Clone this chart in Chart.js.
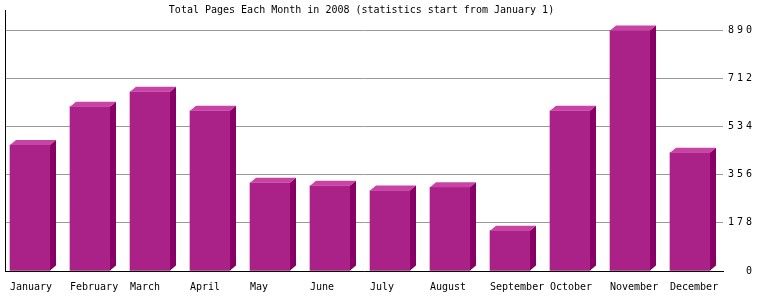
<!DOCTYPE html>
<html>
<head>
<meta charset="utf-8">
<script src="https://cdn.jsdelivr.net/npm/chart.js@4"></script>
<style>
  body { margin: 0; background: #fff; }
</style>
</head>
<body>
<canvas id="pagesChart" width="760" height="300"></canvas>
<script>
const months = ['January', 'February', 'March', 'April', 'May', 'June',
                'July', 'August', 'September', 'October', 'November', 'December'];
const pages = [465, 607, 662, 592, 326, 315, 297, 309, 149, 592, 888, 437];
const yTicks = [0, 178, 356, 534, 712, 890];
const titleText = 'Total Pages Each Month in 2008 (statistics start from January 1)';

const monoFont = "'DejaVu Sans Mono', monospace";
const depthX = 6;
const depthY = 5;

// draws the top and side faces of each bar, and the right hand value labels
const bar3d = {
    id: 'bar3d',
    afterDatasetsDraw(chart) {
        const ctx = chart.ctx;
        chart.getDatasetMeta(0).data.forEach(bar => {
            const left = bar.x - bar.width / 2;
            const right = bar.x + bar.width / 2;
            const top = bar.y;
            const base = bar.base;
            ctx.save();
            ctx.fillStyle = '#c844a4';
            ctx.beginPath();
            ctx.moveTo(left, top);
            ctx.lineTo(left + depthX, top - depthY);
            ctx.lineTo(right + depthX, top - depthY);
            ctx.lineTo(right, top);
            ctx.closePath();
            ctx.fill();
            ctx.fillStyle = '#880066';
            ctx.beginPath();
            ctx.moveTo(right, top);
            ctx.lineTo(right + depthX, top - depthY);
            ctx.lineTo(right + depthX, base - depthY);
            ctx.lineTo(right, base);
            ctx.closePath();
            ctx.fill();
            ctx.restore();
        });
    },
    afterDraw(chart) {
        const ctx = chart.ctx;
        const y = chart.scales.y;
        ctx.save();
        ctx.font = '10px ' + monoFont;
        ctx.fillStyle = '#000';
        ctx.textAlign = 'right';
        ctx.textBaseline = 'middle';
        ctx.letterSpacing = '3px';
        yTicks.forEach(v => {
            ctx.fillText(String(v), 755, y.getPixelForValue(v));
        });
        ctx.restore();
    }
};

new Chart(document.getElementById('pagesChart'), {
    type: 'bar',
    data: {
        datasets: [{
            label: 'Pages',
            data: pages.map((v, i) => ({ x: i, y: v })),
            backgroundColor: '#aa2288',
            borderWidth: 0,
            barThickness: 40
        }]
    },
    options: {
        responsive: false,
        animation: false,
        layout: {
            padding: { left: 0, right: 37, top: 0, bottom: 0 }
        },
        plugins: {
            legend: { display: false },
            tooltip: { enabled: false },
            title: {
                display: true,
                text: titleText,
                color: '#000',
                font: { family: monoFont, size: 10, weight: 'normal', lineHeight: 1.2 },
                padding: { top: 4, bottom: -6 }
            }
        },
        scales: {
            x: {
                type: 'linear',
                offset: false,
                min: -25 / 60,
                max: 693 / 60,
                grid: { display: false, drawTicks: false, offset: false },
                border: { display: true, color: '#000', width: 1 },
                afterBuildTicks: scale => {
                    scale.ticks = months.map((m, i) => ({ value: i }));
                },
                afterFit: scale => { scale.height = 29; },
                ticks: {
                    autoSkip: false,
                    maxRotation: 0,
                    align: 'start',
                    labelOffset: -20,
                    padding: 10,
                    color: '#000',
                    font: { family: monoFont, size: 10 },
                    callback: value => months[value]
                }
            },
            y: {
                min: 0,
                max: 964,
                afterBuildTicks: scale => {
                    scale.ticks = yTicks.map(v => ({ value: v }));
                },
                afterFit: scale => { scale.width = 5; },
                grid: { color: '#999', drawTicks: false },
                border: { display: true, color: '#000', width: 1 },
                ticks: { display: false }
            }
        }
    },
    plugins: [bar3d]
});
</script>
</body>
</html>
